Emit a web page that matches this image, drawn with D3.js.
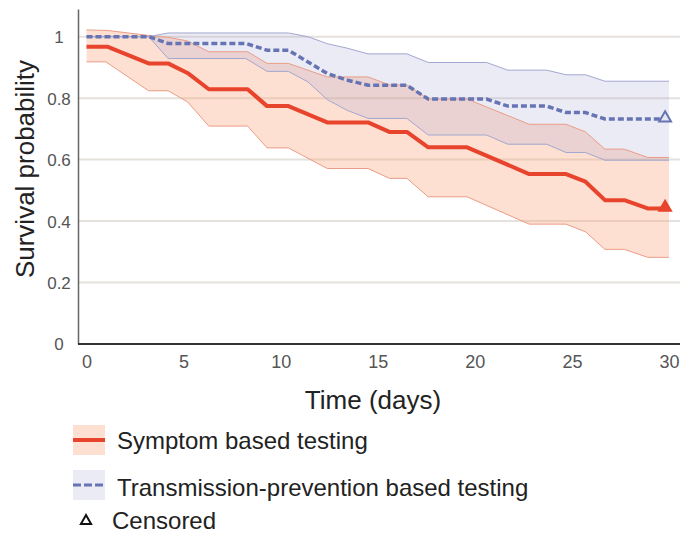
<!DOCTYPE html>
<html>
<head>
<meta charset="utf-8">
<script src="https://cdn.jsdelivr.net/npm/d3@7"></script>
<style>
  body { margin: 0; background: #fff; }
  text { font-family: "Liberation Sans", Arial, sans-serif; }
</style>
</head>
<body>
<div data-output></div>
<script>
// Kaplan-Meier style curves as [day, survival]
const symptomEst = [[0,0.967],[1.1,0.967],[3.2,0.913],[4.2,0.913],[5.2,0.882],[6.3,0.829],[8.3,0.829],[9.3,0.774],[10.4,0.774],[12.4,0.721],[14.5,0.721],[15.6,0.69],[16.5,0.69],[17.6,0.64],[19.6,0.64],[22.8,0.553],[24.7,0.553],[25.7,0.528],[26.7,0.468],[27.7,0.468],[28.9,0.441],[29.8,0.441]];
const symptomLo = [[0,0.918],[1.0,0.918],[3.2,0.824],[4.2,0.824],[5.2,0.788],[6.3,0.709],[8.3,0.709],[9.3,0.638],[10.4,0.638],[12.4,0.571],[14.5,0.571],[15.6,0.539],[16.5,0.539],[17.6,0.479],[19.6,0.479],[22.8,0.39],[24.7,0.39],[25.7,0.365],[26.7,0.308],[27.7,0.308],[28.9,0.282],[30,0.282]];
const symptomHi = [[0,1.022],[1.1,1.02],[3.2,1.004],[4.2,0.998],[5.2,0.986],[6.3,0.951],[8.3,0.951],[9.3,0.913],[10.4,0.913],[12.4,0.869],[14.5,0.869],[15.6,0.843],[16.5,0.843],[17.6,0.797],[19.6,0.797],[22.8,0.715],[24.7,0.715],[25.7,0.69],[26.7,0.634],[27.7,0.634],[28.9,0.607],[30,0.607]];

const transEst = [[0,1],[3.2,1],[4.2,0.978],[8.2,0.978],[9.3,0.956],[10.4,0.956],[12.4,0.88],[13.4,0.859],[14.5,0.842],[16.5,0.842],[17.6,0.797],[20.6,0.797],[21.7,0.774],[23.7,0.774],[24.7,0.753],[25.7,0.753],[26.7,0.732],[29.8,0.732]];
const transLo = [[0,1],[3.2,1],[4.2,0.929],[8.2,0.929],[9.3,0.887],[10.4,0.887],[11.4,0.853],[12.4,0.795],[13.4,0.761],[14.5,0.734],[16.5,0.734],[17.6,0.68],[20.6,0.68],[21.7,0.65],[23.7,0.65],[24.7,0.623],[25.7,0.623],[26.7,0.598],[30,0.598]];
const transHi = [[0,1],[3.2,1],[4.2,1.012],[10.4,1.012],[11.4,1.0],[12.4,0.977],[13.4,0.963],[14.5,0.944],[16.5,0.944],[17.6,0.916],[20.6,0.916],[21.7,0.891],[23.7,0.891],[24.7,0.876],[25.7,0.876],[26.7,0.855],[30,0.855]];

// censored marks at the end of follow-up
const censored = [
  { day: 29.8, value: 0.441, group: 'symptom' },
  { day: 29.8, value: 0.732, group: 'trans' }
];

const xTicks = [0, 5, 10, 15, 20, 25, 30];
const yTicks = [0, 0.2, 0.4, 0.6, 0.8, 1];

const legendLabels = ['Symptom based testing', 'Transmission-prevention based testing', 'Censored'];

const W = 680, H = 533;
const RED = '#e8432d', RED_THIN = '#eb9c86', RED_FILL = '#f9a67c';
const BLUE = '#6674b4', BLUE_THIN = '#a3a7d0', BLUE_FILL = '#9a9ad2';

const x = d3.scaleLinear().domain([0, 30]).range([86.5, 669]);
const y = d3.scaleLinear().domain([0, 1.09]).range([344, 9]);

const svg = d3.select('[data-output]').append('svg')
  .attr('width', W)
  .attr('height', H);

// grid lines
svg.append('g')
  .selectAll('line')
  .data(yTicks.filter(d => d > 0))
  .join('line')
  .attr('x1', 78).attr('x2', 680)
  .attr('y1', d => y(d)).attr('y2', d => y(d))
  .attr('stroke', '#e5e1dc')
  .attr('stroke-width', 2);

// confidence band: upper edge forward, lower edge back
const band = (lo, hi) => {
  const top = hi.map(d => [x(d[0]), y(d[1])]);
  const bot = lo.slice().reverse().map(d => [x(d[0]), y(d[1])]);
  return 'M' + top.concat(bot).map(p => p.join(',')).join('L') + 'Z';
};

const line = d3.line()
  .x(d => x(d[0]))
  .y(d => y(d[1]));

svg.append('path')
  .attr('d', band(symptomLo, symptomHi))
  .attr('fill', RED_FILL)
  .attr('fill-opacity', 0.35);

svg.append('path')
  .attr('d', band(transLo, transHi))
  .attr('fill', BLUE_FILL)
  .attr('fill-opacity', 0.2);

[symptomLo, symptomHi].forEach(s => {
  svg.append('path').datum(s)
    .attr('d', line)
    .attr('fill', 'none')
    .attr('stroke', RED_THIN)
    .attr('stroke-width', 1);
});

[transLo, transHi].forEach(s => {
  svg.append('path').datum(s)
    .attr('d', line)
    .attr('fill', 'none')
    .attr('stroke', BLUE_THIN)
    .attr('stroke-width', 1);
});

svg.append('path').datum(symptomEst)
  .attr('d', line)
  .attr('fill', 'none')
  .attr('stroke', RED)
  .attr('stroke-width', 4)
  .attr('stroke-linejoin', 'round');

svg.append('path').datum(transEst)
  .attr('d', line)
  .attr('fill', 'none')
  .attr('stroke', BLUE)
  .attr('stroke-width', 3.5)
  .attr('stroke-dasharray', '6,3');

const tri = d3.symbol().type(d3.symbolTriangle).size(60);

svg.append('g')
  .selectAll('path')
  .data(censored)
  .join('path')
  .attr('d', tri)
  .attr('transform', d => `translate(${x(d.day)},${y(d.value) - 1})`)
  .attr('fill', d => d.group === 'symptom' ? RED : '#e4e6f3')
  .attr('stroke', d => d.group === 'symptom' ? RED : BLUE)
  .attr('stroke-width', 2);

// axes
const yAxis = svg.append('g')
  .attr('transform', 'translate(78,0)')
  .call(d3.axisLeft(y).tickValues(yTicks).tickSize(0).tickFormat(d3.format('~g')));
yAxis.select('.domain').attr('stroke', '#666').attr('stroke-width', 1.5);
yAxis.selectAll('text')
  .attr('x', -19)
  .attr('dy', '0.35em')
  .attr('text-anchor', 'middle')
  .attr('fill', '#555')
  .style('font-size', '17px')
  .style('font-family', '"Liberation Sans", Arial, sans-serif');

svg.append('line')
  .attr('x1', 78).attr('x2', 680)
  .attr('y1', 344).attr('y2', 344)
  .attr('stroke', '#333')
  .attr('stroke-width', 2);

const xAxis = svg.append('g')
  .attr('transform', 'translate(0,344)')
  .call(d3.axisBottom(x).tickValues(xTicks).tickSize(0));
xAxis.select('.domain').remove();
xAxis.selectAll('text')
  .attr('y', 24)
  .attr('dy', 0)
  .attr('fill', '#555')
  .style('font-size', '18px')
  .style('font-family', '"Liberation Sans", Arial, sans-serif');

svg.append('text')
  .attr('x', 373).attr('y', 409)
  .attr('text-anchor', 'middle')
  .attr('fill', '#222')
  .style('font-size', '26px')
  .text('Time (days)');

svg.append('text')
  .attr('transform', 'translate(34,169) rotate(-90)')
  .attr('text-anchor', 'middle')
  .attr('fill', '#222')
  .style('font-size', '26px')
  .text('Survival probability');

// legend
const lg = svg.append('g');
lg.append('rect').attr('x', 73).attr('y', 425).attr('width', 32).attr('height', 30)
  .attr('fill', RED_FILL).attr('fill-opacity', 0.35);
lg.append('line').attr('x1', 73).attr('x2', 105).attr('y1', 440).attr('y2', 440)
  .attr('stroke', RED).attr('stroke-width', 4);
lg.append('rect').attr('x', 73).attr('y', 470).attr('width', 32).attr('height', 30)
  .attr('fill', BLUE_FILL).attr('fill-opacity', 0.2);
lg.append('line').attr('x1', 73).attr('x2', 105).attr('y1', 485).attr('y2', 485)
  .attr('stroke', BLUE).attr('stroke-width', 3).attr('stroke-dasharray', '8,3');
lg.append('path').attr('d', d3.symbol().type(d3.symbolTriangle).size(45))
  .attr('transform', 'translate(86,521)')
  .attr('fill', 'none').attr('stroke', '#111').attr('stroke-width', 2);

lg.selectAll('text.lab')
  .data(legendLabels)
  .join('text')
  .attr('class', 'lab')
  .attr('x', (d, i) => i === 2 ? 112 : 117)
  .attr('y', (d, i) => [449, 496, 529][i])
  .attr('fill', '#222')
  .style('font-size', '24px')
  .text(d => d);
</script>
</body>
</html>
